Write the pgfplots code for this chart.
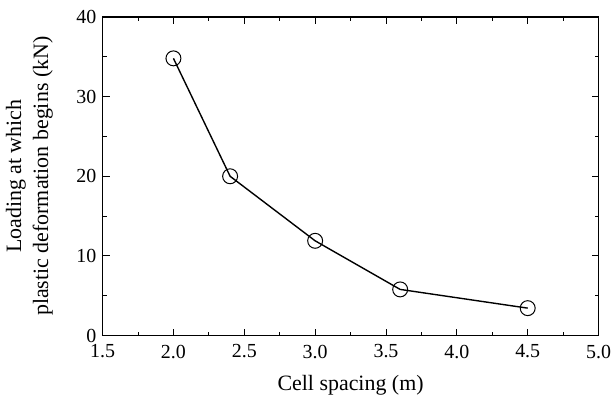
\documentclass[border=0pt]{standalone}
\usepackage{fontspec}
\setmainfont{Liberation Serif}
\usepackage{pgfplots}
\pgfplotsset{compat=1.18}

\begin{document}
\begin{tikzpicture}
\begin{axis}[
    name=ax,
    width=498pt, height=320pt,
    scale only axis,
    xmin=1.5, xmax=5.0,
    ymin=0, ymax=40,
    xtick={1.5,2.0,...,5.0},
    ytick={0,10,20,30,40},
    minor x tick num=1,
    minor y tick num=1,
    tick align=inside,
    major tick length=7pt,
    minor tick length=4pt,
    every tick/.style={black, line width=1pt},
    axis line style={line width=1.2pt},
    /pgf/number format/assume math mode=true,
    tick label style={font=\fontsize{20}{23}\selectfont},
    xticklabel style={/pgf/number format/fixed, /pgf/number format/fixed zerofill,
        /pgf/number format/precision=1, inner sep=2pt, yshift=-7pt},
    yticklabel style={inner sep=2pt, xshift=-4pt},
    label style={font=\fontsize{22}{27}\selectfont},
    xlabel={Cell spacing (m)},
    ylabel={Loading at which\\plastic deformation begins (kN)},
    ylabel style={align=center, inner sep=0pt, at={(axis description cs:-0.1,0.5)}, anchor=south, rotate=0},
    xlabel style={inner sep=0pt, at={(axis description cs:0.5,-0.172)}, anchor=base},
]
\addplot[black, line width=1.4pt, mark=o, mark size=7.5pt,
    mark options={fill=white, line width=1pt}] coordinates {
    (2.0,34.8) (2.4,20.0) (3.0,11.9) (3.6,5.8) (4.5,3.45)
};
\end{axis}
\path (ax.south west) ++(-103pt,-63pt) coordinate (bl);
\path (ax.north east) ++(12pt,17pt) coordinate (tr);
\useasboundingbox (bl) rectangle (tr);
\end{tikzpicture}
\end{document}
